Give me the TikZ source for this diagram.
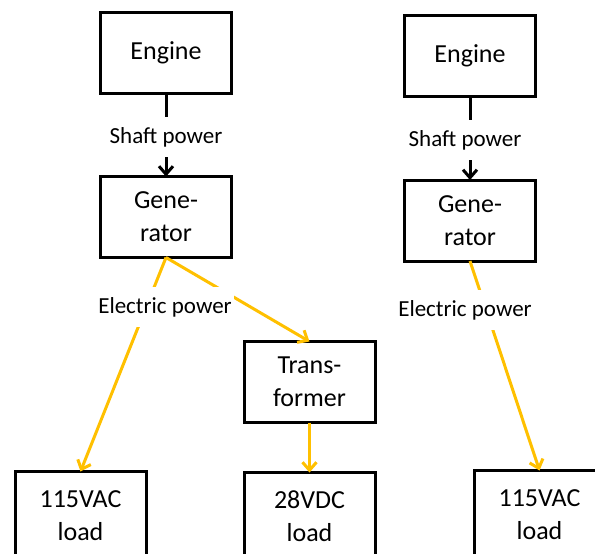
\documentclass[tikz,border=0pt]{standalone}
\usepackage{fontspec}
\setmainfont{Carlito}
\usepackage{tikz}
\usetikzlibrary{arrows.meta}
\definecolor{elecgold}{HTML}{FFC000}

\begin{document}
\begin{tikzpicture}[
  x=0.5pt, y=-0.5pt, line cap=butt,
  unitbox/.style={draw=black, line width=1.5pt, minimum width=65.5pt, minimum height=40.5pt,
    inner sep=0pt, outer sep=0pt, align=center, font=\fontsize{13}{16.5}\selectfont},
  flowlbl/.style={fill=white, inner xsep=1pt, inner ysep=5pt, font=\fontsize{11.5}{13}\selectfont},
  shaftline/.style={black, line width=1.5pt, -{Straight Barb[length=4pt, width=7pt]}},
  elecline/.style={elecgold, line width=1.5pt, -{Straight Barb[length=4pt, width=7pt]}},
]

\useasboundingbox (0,0) rectangle (595,553);
\clip (0,0) rectangle (595,553);

% Left chain
\node[unitbox] (engA) at (166,53) {Engine};
\node[unitbox] (genA) at (166,217) {Gene-\\rator};
\node[unitbox] (trafo) at (309.5,382) {Trans-\\former};
\node[unitbox, minimum height=44pt] (acA) at (80.5,515.5) {115VAC\\load};
\node[unitbox, minimum height=44pt] (dc) at (309.5,516.5) {28VDC\\load};

\draw[shaftline] (engA.south) -- (genA.north);
\draw[elecline] (genA.south) -- (acA.north);
\draw[elecline] (genA.south) -- (trafo.north);
\draw[elecline] (trafo.south) -- (dc.north);

\node[flowlbl] (shaftA) at (166,137) {Shaft power};
\node[flowlbl] (elecA) at (165,307) {Electric power};

% Right chain
\node[unitbox] (engB) at (470,56) {Engine};
\node[unitbox] (genB) at (470,220.5) {Gene-\\rator};
\node[unitbox, minimum height=44pt] (acB) at (539.5,514.5) {115VAC\\load};

\draw[shaftline] (engB.south) -- (genB.north);
\draw[elecline] (genB.south) -- (acB.north);

\node[flowlbl] (shaftB) at (465,140) {Shaft power};
\node[flowlbl] (elecB) at (465,310) {Electric power};

\end{tikzpicture}
\end{document}
